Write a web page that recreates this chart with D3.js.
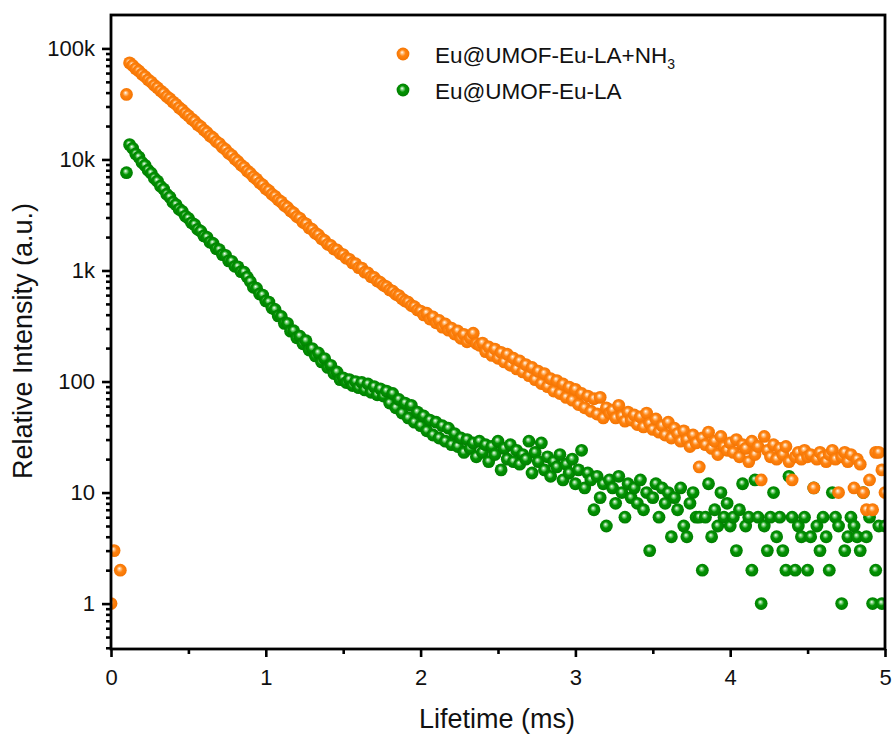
<!DOCTYPE html>
<html>
<head>
<meta charset="utf-8">
<script src="https://cdn.jsdelivr.net/npm/d3@7"></script>
<style>
  body { margin: 0; background: #fff; }
  text { font-family: "Liberation Sans", Arial, sans-serif; fill: #111; }
</style>
</head>
<body>
<div id="chart"></div>
<script>
// decay curves, one count per 0.02 ms channel (0 = nothing plotted)
const timeStepMs = 0.02;

const seriesNames = ["Eu@UMOF-Eu-LA+NH", "Eu@UMOF-Eu-LA"];

const countsNH3 = [
  1, 3, 0, 2, 0, 38500, 74100, 70300, 65800, 62600,
  58700, 55800, 52200, 49800, 46500, 44300, 41500, 39500, 36900, 35200,
  33000, 31400, 29300, 27900, 26100, 24800, 23200, 22100, 20600, 19700,
  18400, 17500, 16300, 15600, 14500, 13900, 12900, 12300, 11400, 10900,
  10100, 9600, 8930, 8500, 7890, 7510, 6980, 6650, 6170, 5890,
  5460, 5230, 4860, 4650, 4330, 4150, 3860, 3700, 3440, 3300,
  3060, 2950, 2720, 2630, 2420, 2340, 2170, 2090, 1930, 1860,
  1720, 1680, 1560, 1530, 1420, 1390, 1290, 1260, 1170, 1150,
  1060, 1050, 965, 950, 878, 865, 806, 781, 735, 714,
  669, 651, 611, 594, 556, 531, 518, 484, 472, 441,
  431, 398, 412, 365, 381, 338, 355, 309, 330, 290,
  302, 268, 285, 245, 266, 228, 248, 272, 220, 212,
  222, 186, 205, 172, 196, 162, 183, 150, 176, 140,
  162, 130, 153, 122, 142, 113, 134, 104, 124, 96,
  118, 90, 106, 82, 102, 78, 95, 72, 89, 68,
  85, 62, 78, 58, 74, 54, 70, 51, 72, 47,
  58, 52, 55, 47, 61, 49, 44, 53, 45, 50,
  41, 48, 39, 52, 42, 37, 46, 35, 40, 33,
  43, 31, 38, 34, 29, 36, 30, 26, 33, 28,
  17, 31, 27, 35, 25, 29, 22, 32, 26, 24,
  28, 23, 30, 21, 27, 25, 19, 29, 22, 26,
  13, 32, 24, 21, 27, 20, 25, 22, 26, 19,
  13, 21, 23, 20, 24, 21, 22, 11, 20, 23,
  21, 19, 22, 24, 20, 10, 21, 23, 19, 22,
  11, 20, 18, 10, 7, 13, 7, 23, 23, 16,
  10
];

const countsLA = [
  0, 0, 0, 0, 0, 7600, 13600, 12600, 11200, 10500,
  9400, 8850, 8000, 7520, 6780, 6380, 5740, 5410, 4860, 4580,
  4120, 3920, 3570, 3410, 3090, 2950, 2690, 2590, 2350, 2260,
  2050, 1990, 1800, 1750, 1570, 1540, 1390, 1370, 1220, 1210,
  1090, 1080, 975, 966, 872, 795, 705, 693, 614, 601,
  532, 520, 459, 446, 390, 385, 334, 334, 284, 287,
  248, 256, 219, 233, 192, 198, 170, 181, 150, 161,
  134, 140, 118, 122, 104, 108, 98, 104, 92, 100,
  88, 98, 84, 95, 80, 90, 76, 86, 74, 82,
  64, 78, 58, 69, 52, 64, 47, 61, 43, 53,
  40, 49, 36, 45, 33, 43, 31, 40, 29, 38,
  27, 34, 26, 31, 23, 30, 25, 28, 21, 29,
  23, 27, 19, 26, 22, 29, 16, 25, 20, 27,
  19, 24, 18, 22, 20, 29, 15, 23, 19, 28,
  16, 21, 14, 19, 17, 22, 13, 18, 15, 20,
  12, 16, 24, 11, 15, 13, 7, 14, 9, 12,
  5, 13, 11, 8, 14, 10, 6, 12, 9, 11,
  8, 13, 7, 10, 3, 9, 12, 6, 11, 8,
  10, 4, 9, 7, 11, 5, 4, 8, 10, 6,
  6, 2, 6, 12, 4, 7, 5, 10, 6, 8,
  5, 6, 3, 7, 12, 5, 6, 2, 13, 6,
  1, 5, 3, 6, 10, 4, 6, 3, 2, 14,
  6, 2, 5, 4, 6, 2, 4, 11, 5, 3,
  6, 4, 2, 10, 6, 5, 1, 3, 4, 6,
  5, 4, 3, 10, 4, 6, 1, 2, 5, 1,
  5
];

const xTicks = [0, 1, 2, 3, 4, 5];
const yTicks = [1, 10, 100, 1000, 10000, 100000];
const yTickLabels = ["1", "10", "100", "1k", "10k", "100k"];

const width = 894;
const height = 736;
const plot = { left: 111, right: 885, top: 15, bottom: 649 };

const svg = d3.select("#chart").append("svg")
  .attr("width", width).attr("height", height);

const xScale = d3.scaleLinear().domain([0, 5]).range([plot.left, plot.right]);
const yScale = d3.scaleLog().domain([0.39, 2.0e5]).range([plot.bottom, plot.top]);

// sphere-like markers
const defs = svg.append("defs");
function ballGradient(id, light, base, dark) {
  const g = defs.append("radialGradient").attr("id", id)
    .attr("cx", "50%").attr("cy", "50%").attr("r", "55%")
    .attr("fx", "42%").attr("fy", "36%");
  g.append("stop").attr("offset", "0%").attr("stop-color", "#ffffff");
  g.append("stop").attr("offset", "18%").attr("stop-color", light);
  g.append("stop").attr("offset", "45%").attr("stop-color", base);
  g.append("stop").attr("offset", "100%").attr("stop-color", dark);
}
ballGradient("ballOrange", "#ffc890", "#ff8310", "#f27200");
ballGradient("ballGreen", "#8fd88f", "#039403", "#007a00");

defs.append("clipPath").attr("id", "plotClip")
  .append("rect")
  .attr("x", plot.left).attr("y", plot.top)
  .attr("width", plot.right - plot.left).attr("height", plot.bottom - plot.top);

function toPoints(counts) {
  return counts.map((v, i) => ({ t: i * timeStepMs, v: v })).filter((d) => d.v > 0);
}

const pointsGroup = svg.append("g").attr("clip-path", "url(#plotClip)");

pointsGroup.append("g").selectAll("circle")
  .data(toPoints(countsLA))
  .join("circle")
  .attr("cx", (d) => xScale(d.t))
  .attr("cy", (d) => yScale(d.v))
  .attr("r", 6.4)
  .attr("fill", "url(#ballGreen)");

pointsGroup.append("g").selectAll("circle")
  .data(toPoints(countsNH3))
  .join("circle")
  .attr("cx", (d) => xScale(d.t))
  .attr("cy", (d) => yScale(d.v))
  .attr("r", 6.4)
  .attr("fill", "url(#ballOrange)");

// axes
const minorY = [];
for (let e = -1; e <= 5; e++) {
  for (let m = 2; m <= 9; m++) {
    const v = m * Math.pow(10, e);
    if (v >= 0.39 && v < 2.0e5) minorY.push(v);
  }
}
const minorX = [0.5, 1.5, 2.5, 3.5, 4.5];

function styleAxis(g) {
  g.select(".domain").remove();
  g.selectAll("line").attr("stroke", "#000").attr("stroke-width", 2.6);
  g.selectAll("text").style("font-family", "'Liberation Sans', Arial, sans-serif").style("font-size", "22px").attr("fill", "#111");
}

svg.append("g")
  .attr("transform", `translate(${plot.left},0)`)
  .call(d3.axisLeft(yScale).tickValues(minorY).tickSize(5).tickFormat(""))
  .call(styleAxis);

svg.append("g")
  .attr("transform", `translate(${plot.left},0)`)
  .call(d3.axisLeft(yScale).tickValues(yTicks).tickSize(9).tickPadding(7)
    .tickFormat((d, i) => yTickLabels[i]))
  .call(styleAxis);

svg.append("g")
  .attr("transform", `translate(0,${plot.bottom})`)
  .call(d3.axisBottom(xScale).tickValues(minorX).tickSize(5).tickFormat(""))
  .call(styleAxis);

svg.append("g")
  .attr("transform", `translate(0,${plot.bottom})`)
  .call(d3.axisBottom(xScale).tickValues(xTicks).tickSize(8).tickPadding(12).tickFormat(d3.format("d")))
  .call(styleAxis);

// frame
svg.append("rect")
  .attr("x", plot.left).attr("y", plot.top)
  .attr("width", plot.right - plot.left).attr("height", plot.bottom - plot.top)
  .attr("fill", "none").attr("stroke", "#000").attr("stroke-width", 2.8);

// axis titles
svg.append("text")
  .attr("x", (plot.left + plot.right) / 2 - 1)
  .attr("y", 728)
  .attr("text-anchor", "middle")
  .style("font-size", "27px")
  .text("Lifetime (ms)");

svg.append("text")
  .attr("transform", `translate(32,${341}) rotate(-90)`)
  .attr("text-anchor", "middle")
  .style("font-size", "27px")
  .text("Relative Intensity (a.u.)");

// legend
const legend = svg.append("g");
const legendRows = [
  { name: seriesNames[0], sub: "3", fill: "url(#ballOrange)", y: 54 },
  { name: seriesNames[1], sub: "", fill: "url(#ballGreen)", y: 90 }
];
legendRows.forEach((row) => {
  legend.append("circle")
    .attr("cx", 403).attr("cy", row.y).attr("r", 6.4)
    .attr("fill", row.fill);
  const txt = legend.append("text")
    .attr("x", 435).attr("y", row.y + 8.5)
    .style("font-size", "22.5px")
    .text(row.name);
  if (row.sub) {
    txt.append("tspan")
      .attr("dy", 6)
      .style("font-size", "14px")
      .text(row.sub);
  }
});
</script>
</body>
</html>
